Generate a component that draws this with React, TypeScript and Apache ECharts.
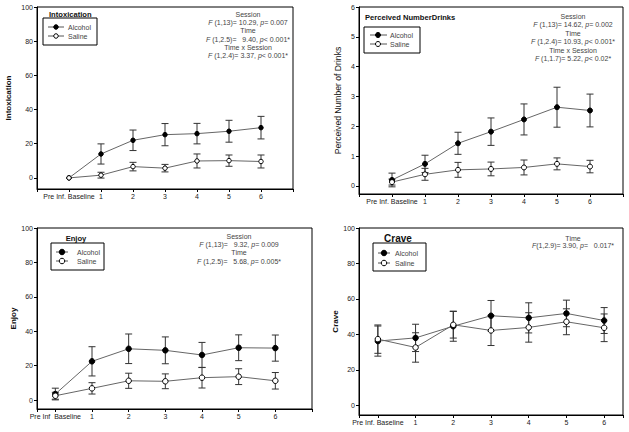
import React, { useEffect, useRef } from "react";
import * as echarts from "echarts";

const FONT = '"Liberation Sans", Arial, sans-serif';

const xPositions = [0, 1, 2, 3, 4, 5, 6];
const xLabels = ["Pre Inf. Baseline", "1", "2", "3", "4", "5", "6"];
const xLabelsEnjoy = ["Pre Inf  Baseline", "1", "2", "3", "4", "5", "6"];
const ticks100 = [0, 20, 40, 60, 80, 100];
const ticks6 = [0, 1, 2, 3, 4, 5, 6];

// Intoxication
const intoxAlcohol = [0, 14.0, 22.0, 25.3, 25.9, 27.3, 29.4];
const intoxAlcoholErr = [0, 5.9, 6.0, 6.5, 6.0, 6.4, 6.6];
const intoxSaline = [0, 1.6, 6.6, 5.7, 9.9, 10.1, 9.6];
const intoxSalineErr = [0, 1.7, 2.5, 2.2, 4.1, 3.3, 3.8];

// Perceived number of drinks
const drinksAlcohol = [0.2, 0.74, 1.43, 1.82, 2.23, 2.64, 2.53];
const drinksAlcoholErr = [0.23, 0.29, 0.37, 0.46, 0.52, 0.67, 0.55];
const drinksSaline = [0.13, 0.39, 0.54, 0.57, 0.62, 0.74, 0.65];
const drinksSalineErr = [0.1, 0.2, 0.25, 0.23, 0.25, 0.2, 0.21];

// Enjoy
const enjoyAlcohol = [3.5, 22.5, 29.8, 28.9, 26.2, 30.4, 30.2];
const enjoyAlcoholErr = [3.4, 8.5, 8.6, 7.8, 7.3, 7.5, 7.6];
const enjoySaline = [2.5, 6.8, 11.2, 10.9, 13.0, 13.6, 11.2];
const enjoySalineErr = [2.0, 3.3, 4.4, 4.3, 6.0, 4.6, 4.8];

// Crave
const craveAlcohol = [36.2, 38.0, 44.6, 50.5, 49.3, 51.8, 47.8];
const craveAlcoholErr = [8.5, 7.7, 8.5, 8.6, 8.5, 7.5, 7.3];
const craveSaline = [37.3, 32.6, 45.4, 42.2, 43.9, 47.1, 43.7];
const craveSalineErr = [8.0, 8.3, 7.5, 8.5, 8.3, 7.3, 7.8];

type Panel = {
  grid: { left: number; top: number; width: number; height: number };
  xMin: number;
  xMax: number;
  yMin: number;
  yMax: number;
  yTicks: number[];
  labels: string[];
  yName: string;
  yNameBold: boolean;
  yNameSize: number;
  yNameGap: number;
  alcohol: number[];
  alcoholErr: number[];
  saline: number[];
  salineErr: number[];
  symbolSize: number;
};

const panels: Panel[] = [
  {
    grid: { left: 37, top: 7, width: 256, height: 182 },
    xMin: -1, xMax: 7, yMin: -6.5, yMax: 100, yTicks: ticks100, labels: xLabels,
    yName: "Intoxication", yNameBold: true, yNameSize: 8, yNameGap: 25,
    alcohol: intoxAlcohol, alcoholErr: intoxAlcoholErr, saline: intoxSaline, salineErr: intoxSalineErr,
    symbolSize: 4.5,
  },
  {
    grid: { left: 359, top: 7, width: 264, height: 187 },
    xMin: -1, xMax: 7, yMin: -0.27, yMax: 6, yTicks: ticks6, labels: xLabels,
    yName: "Perceived Number of Drinks", yNameBold: false, yNameSize: 8.6, yNameGap: 17,
    alcohol: drinksAlcohol, alcoholErr: drinksAlcoholErr, saline: drinksSaline, salineErr: drinksSalineErr,
    symbolSize: 5,
  },
  {
    grid: { left: 37, top: 228, width: 275, height: 181 },
    xMin: -0.5, xMax: 7, yMin: -5.2, yMax: 100, yTicks: ticks100, labels: xLabelsEnjoy,
    yName: "Enjoy", yNameBold: true, yNameSize: 8, yNameGap: 17,
    alcohol: enjoyAlcohol, alcoholErr: enjoyAlcoholErr, saline: enjoySaline, salineErr: enjoySalineErr,
    symbolSize: 5.5,
  },
  {
    grid: { left: 359, top: 228, width: 264, height: 187 },
    xMin: -0.5, xMax: 6.5, yMin: -5.5, yMax: 100, yTicks: ticks100, labels: xLabels,
    yName: "Crave", yNameBold: true, yNameSize: 8, yNameGap: 19,
    alcohol: craveAlcohol, alcoholErr: craveAlcoholErr, saline: craveSaline, salineErr: craveSalineErr,
    symbolSize: 5.5,
  },
];

function errorRenderItem(params: any, api: any) {
  const x = api.value(0);
  const lo = api.coord([x, api.value(1)]);
  const hi = api.coord([x, api.value(2)]);
  const w = 3.5;
  const style = { stroke: "#333", lineWidth: 1, fill: "none" };
  return {
    type: "group",
    children: [
      { type: "line", shape: { x1: lo[0], y1: lo[1], x2: hi[0], y2: hi[1] }, style },
      { type: "line", shape: { x1: lo[0] - w, y1: lo[1], x2: lo[0] + w, y2: lo[1] }, style },
      { type: "line", shape: { x1: hi[0] - w, y1: hi[1], x2: hi[0] + w, y2: hi[1] }, style },
    ],
  };
}

function legend(box: { x: number; y: number; w: number; h: number }, rows: number[], lx1: number, lx2: number, mx: number, tx: number, size: number) {
  const els: any[] = [
    { type: "rect", shape: { x: box.x, y: box.y, width: box.w, height: box.h }, style: { fill: "#fff", stroke: "#000", lineWidth: 1 }, z: 10 },
  ];
  const names = ["Alcohol", "Saline"];
  rows.forEach((ry, i) => {
    els.push({ type: "line", shape: { x1: lx1, y1: ry, x2: lx2, y2: ry }, style: { stroke: "#555", lineWidth: 1 }, z: 11 });
    els.push({ type: "circle", shape: { cx: mx, cy: ry, r: size / 2 }, style: { fill: i === 0 ? "#000" : "#fff", stroke: "#000", lineWidth: 1 }, z: 12 });
    els.push({ type: "text", x: tx, y: ry, style: { text: names[i], fill: "#444", font: `7px ${FONT}`, verticalAlign: "middle", align: "left" }, z: 12 });
  });
  return els;
}

// Each line: segments separated by "|"; odd-indexed segments are italic.
function annot(cx: number, ys: number[], lines: string[]) {
  return lines.map((t, i) => {
    const parts = t.split("|");
    const text = parts.map((s, k) => (s ? `{${k % 2 ? "i" : "n"}|${s}}` : "")).join("");
    return {
      type: "text",
      x: cx,
      y: ys[i],
      z: 12,
      style: {
        text,
        fill: "#444",
        fontSize: 7,
        fontFamily: FONT,
        align: "center",
        verticalAlign: "middle",
        rich: {
          n: { fontSize: 7, fontFamily: FONT, fill: "#444", color: "#444" },
          i: { fontStyle: "italic", fontSize: 7, fontFamily: FONT, fill: "#444", color: "#444" },
        },
      },
    };
  });
}

function spaced(start: number, step: number, n: number) {
  const out: number[] = [];
  for (let i = 0; i < n; i++) out.push(start + step * i);
  return out;
}

export default function App() {
  const ref = useRef<HTMLDivElement>(null);
  useEffect(() => {
    if (!ref.current) return;
    const chart = echarts.init(ref.current, undefined, { renderer: "svg" });

    const grid: any[] = [];
    const xAxis: any[] = [];
    const yAxis: any[] = [];
    const series: any[] = [];

    panels.forEach((p, gi) => {
      grid.push({ ...p.grid, show: true, borderColor: "#000", borderWidth: 1, backgroundColor: "transparent", containLabel: false });
      xAxis.push({
        type: "value",
        gridIndex: gi,
        min: p.xMin,
        max: p.xMax,
        axisLine: { show: true, onZero: false, lineStyle: { color: "#000", width: 1 } },
        axisTick: { show: true, inside: false, length: 3, customValues: [p.xMin, ...xPositions, p.xMax], lineStyle: { color: "#000" } },
        axisLabel: {
          customValues: xPositions,
          formatter: (v: number) => p.labels[Math.round(v)] ?? "",
          fontSize: 7,
          fontFamily: FONT,
          color: "#222",
          margin: 4,
        },
        splitLine: { show: false },
      });
      yAxis.push({
        type: "value",
        gridIndex: gi,
        min: p.yMin,
        max: p.yMax,
        name: p.yName,
        nameLocation: "middle",
        nameRotate: 90,
        nameGap: p.yNameGap,
        nameTextStyle: { fontSize: p.yNameSize, fontWeight: p.yNameBold ? "bold" : "normal", fontFamily: FONT, color: "#111" },
        axisLine: { show: true, onZero: false, lineStyle: { color: "#000", width: 1 } },
        axisTick: { show: true, inside: false, length: 3, customValues: p.yTicks, lineStyle: { color: "#000" } },
        axisLabel: { customValues: p.yTicks, fontSize: 7, fontFamily: FONT, color: "#222", margin: 4 },
        splitLine: { show: false },
      });
      const mk = (vals: number[], errs: number[]) =>
        vals.map((v, i) => [xPositions[i], v - errs[i], v + errs[i]]).filter((d, i) => errs[i] > 0);
      series.push({
        type: "custom", name: "Alcohol err", xAxisIndex: gi, yAxisIndex: gi, z: 1,
        renderItem: errorRenderItem, encode: { x: 0, y: [1, 2] }, data: mk(p.alcohol, p.alcoholErr), silent: true,
      });
      series.push({
        type: "custom", name: "Saline err", xAxisIndex: gi, yAxisIndex: gi, z: 1,
        renderItem: errorRenderItem, encode: { x: 0, y: [1, 2] }, data: mk(p.saline, p.salineErr), silent: true,
      });
      series.push({
        type: "line", name: "Alcohol", xAxisIndex: gi, yAxisIndex: gi, z: 3,
        data: p.alcohol.map((v, i) => [xPositions[i], v]),
        symbol: "circle", symbolSize: p.symbolSize, showAllSymbol: true,
        lineStyle: { color: "#666", width: 1 },
        itemStyle: { color: "#000", borderColor: "#000", borderWidth: 1 },
      });
      series.push({
        type: "line", name: "Saline", xAxisIndex: gi, yAxisIndex: gi, z: 3,
        data: p.saline.map((v, i) => [xPositions[i], v]),
        symbol: "circle", symbolSize: p.symbolSize, showAllSymbol: true,
        lineStyle: { color: "#666", width: 1 },
        itemStyle: { color: "#fff", borderColor: "#000", borderWidth: 1 },
      });
    });

    const titleStyle = (t: string, size: number) => ({ text: t, fill: "#111", font: `bold ${size}px ${FONT}`, verticalAlign: "middle" });

    const graphic: any[] = [
      { type: "text", x: 49, y: 14, z: 12, style: { ...titleStyle("Intoxication", 7.6), align: "left" } },
      { type: "text", x: 365, y: 17, z: 12, style: { ...titleStyle("Perceived NumberDrinks", 7.6), align: "left" } },
      { type: "text", x: 76, y: 238, z: 12, style: { ...titleStyle("Enjoy", 7.6), align: "center" } },
      { type: "text", x: 398, y: 238, z: 12, style: { ...titleStyle("Crave", 10), align: "center" } },
      ...legend({ x: 43, y: 18, w: 54, h: 27 }, [27, 36], 48, 64, 56, 68, 4.5),
      ...legend({ x: 364, y: 27, w: 56, h: 26 }, [35, 44], 370, 387, 378, 390, 5),
      ...legend({ x: 51, y: 243, w: 53, h: 27 }, [252, 261], 56, 68, 62, 77, 5.5),
      ...legend({ x: 373, y: 243, w: 53, h: 28 }, [253, 263], 378, 390, 384, 395, 5.5),
      ...annot(248, spaced(14, 8.35, 6), [
        "Session",
        "|F| (1,13)= 10.29, |p|= 0.007",
        "Time",
        "|F| (1,2.5)=   9.40, |p|< 0.001*",
        "Time x Session",
        "|F| (1,2.4)= 3.37, |p|< 0.001*",
      ]),
      ...annot(573, spaced(16, 8.5, 6), [
        "Session",
        "|F| (1,13)= 14.62, |p|= 0.002",
        "Time",
        "|F| (1,2.4)= 10.93, |p|< 0.001*",
        "Time x Session",
        "|F| (1,1.7)= 5.22, |p|< 0.02*",
      ]),
      ...annot(239, spaced(236, 8.4, 4), [
        "Session",
        "|F| (1,13)=   9.32, |p|= 0.009",
        "Time",
        "|F| (1,2.5)=   5.68, |p|= 0.005*",
      ]),
      ...annot(573, spaced(238, 7.6, 2), [
        "Time",
        "|F|(1,2.9)= 3.90, |p|=   0.017*",
      ]),
    ];

    chart.setOption({
      animation: false,
      backgroundColor: "#fff",
      textStyle: { fontFamily: FONT },
      grid,
      xAxis,
      yAxis,
      series,
      graphic,
    });
    return () => chart.dispose();
  }, []);
  return <div ref={ref} style={{ position: "absolute", left: 0, top: 0, width: 629, height: 432 }} />;
}
